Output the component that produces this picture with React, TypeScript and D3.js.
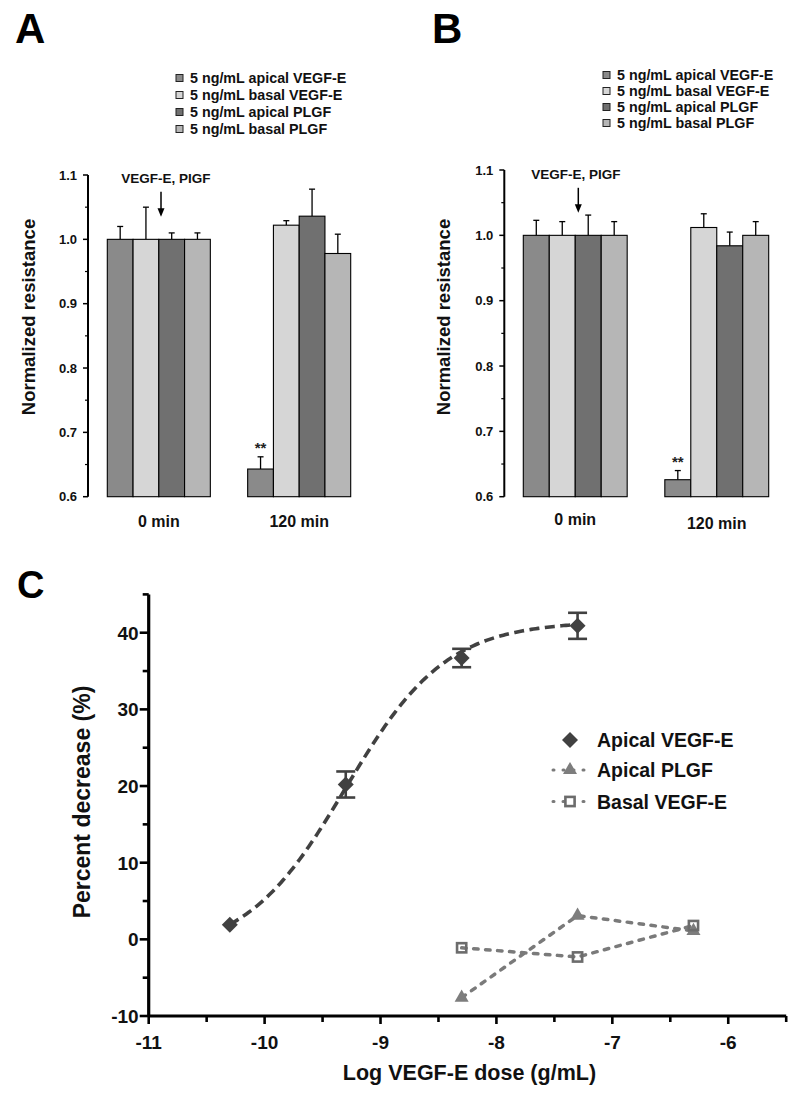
import React from "react";
import * as d3 from "d3";

const FONT = "'Liberation Sans', Arial, Helvetica, sans-serif";

// ---------- Panels A & B data ----------
const timeGroups = ["0 min", "120 min"];
const barSeries = [
  "5 ng/mL apical VEGF-E",
  "5 ng/mL basal VEGF-E",
  "5 ng/mL apical PLGF",
  "5 ng/mL basal PLGF",
];
const barColors = ["#8a8a8a", "#d6d6d6", "#707070", "#b6b6b6"];
const barTicks = [0.6, 0.7, 0.8, 0.9, 1.0, 1.1];
const barMinorTicks = [0.65, 0.75, 0.85, 0.95, 1.05];

const panelA0min = [1.0, 1.0, 1.0, 1.0];
const panelA0minErr = [0.02, 0.05, 0.01, 0.01];
const panelA120min = [0.643, 1.022, 1.036, 0.978];
const panelA120minErr = [0.019, 0.007, 0.042, 0.03];

const panelB0min = [1.0, 1.0, 1.0, 1.0];
const panelB0minErr = [0.023, 0.021, 0.031, 0.021];
const panelB120min = [0.626, 1.012, 0.984, 1.0];
const panelB120minErr = [0.014, 0.021, 0.021, 0.021];

// ---------- Panel C data ----------
const doseApicalVEGF = [-10.3, -9.3, -8.3, -7.3];
const apicalVEGF = [1.9, 20.2, 36.7, 40.9];
const apicalVEGFErr = [0, 1.7, 1.2, 1.7];
const doseControls = [-8.3, -7.3, -6.3];
const apicalPLGF = [-7.6, 3.1, 1.1];
const basalVEGF = [-1.1, -2.3, 1.8];
const cYTicks = [-10, 0, 10, 20, 30, 40];
const cYMinorTicks = [-5, 5, 15, 25, 35, 45];
const cXTicks = [-11, -10, -9, -8, -7, -6];
const cXMinorTicks = [-10.5, -9.5, -8.5, -7.5, -6.5, -5.5];
const cLegend = ["Apical VEGF-E", "Apical PLGF", "Basal VEGF-E"];
// sigmoidal dose-response fit parameters for apical VEGF-E
const FIT_BOTTOM = -2;
const FIT_TOP = 41.5;
const FIT_LOGEC50 = -9.3;
const FIT_HILL = 1.0;

type BarPanelProps = {
  letter: string;
  letterX: number;
  values: number[][];
  errors: number[][];
  axisX: number;
  yTop: number;
  yBottom: number;
  xRange: [number, number];
  legendX: number;
  legendY0: number;
  legendDy: number;
  arrowX: number;
  noteX: number;
  noteBaseline: number;
  xLabelBaselines: number[];
  yTitleX: number;
  yTitleY: number;
};

function BarPanel(p: BarPanelProps) {
  const y = d3.scaleLinear().domain([0.6, 1.1]).range([p.yBottom, p.yTop]);
  const xg = d3.scaleBand<string>().domain(timeGroups).range(p.xRange).paddingInner(0.266).paddingOuter(0);
  const xs = d3.scaleBand<string>().domain(barSeries).range([0, xg.bandwidth()]).padding(0);
  const fmt = d3.format(".1f");
  const starErrTop = y(p.values[1][0] + p.errors[1][0]);
  return (
    <g>
      <text x={p.letterX} y={43} fontFamily={FONT} fontWeight="bold" fontSize={42}>
        {p.letter}
      </text>
      {/* legend */}
      {barSeries.map((s, i) => (
        <g key={s}>
          <rect
            x={p.legendX}
            y={p.legendY0 + i * p.legendDy - 3.5}
            width={7}
            height={7}
            fill={barColors[i]}
            stroke="#222"
            strokeWidth={1}
          />
          <text
            x={p.legendX + 14}
            y={p.legendY0 + i * p.legendDy + 5}
            fontFamily={FONT}
            fontWeight="bold"
            fontSize={14.3}
            fill="#111"
          >
            {s}
          </text>
        </g>
      ))}
      {/* y axis */}
      <line x1={p.axisX} x2={p.axisX} y1={y(1.1)} y2={y(0.6)} stroke="#000" strokeWidth={2} />
      {barTicks.map((t) => (
        <g key={t}>
          <line x1={p.axisX - 5} x2={p.axisX} y1={y(t)} y2={y(t)} stroke="#000" strokeWidth={1.5} />
          <text
            x={p.axisX - 11}
            y={y(t) + 4.5}
            textAnchor="end"
            fontFamily={FONT}
            fontWeight="bold"
            fontSize={13}
            fill="#111"
          >
            {fmt(t)}
          </text>
        </g>
      ))}
      {barMinorTicks.map((t) => (
        <line key={t} x1={p.axisX - 3} x2={p.axisX} y1={y(t)} y2={y(t)} stroke="#000" strokeWidth={1.2} />
      ))}
      <text
        transform={`translate(${p.yTitleX},${p.yTitleY}) rotate(-90)`}
        textAnchor="middle"
        dy="0.35em"
        fontFamily={FONT}
        fontWeight="bold"
        fontSize={18.5}
        fill="#111"
      >
        Normalized resistance
      </text>
      {/* bars */}
      {timeGroups.map((g, gi) => (
        <g key={g}>
          {barSeries.map((s, si) => {
            const v = p.values[gi][si];
            const e = p.errors[gi][si];
            const x0 = (xg(g) as number) + (xs(s) as number);
            const cx = x0 + xs.bandwidth() / 2;
            return (
              <g key={s}>
                <line x1={cx} x2={cx} y1={y(v)} y2={y(v + e)} stroke="#000" strokeWidth={1.3} />
                <line x1={cx - 3} x2={cx + 3} y1={y(v + e)} y2={y(v + e)} stroke="#000" strokeWidth={1.3} />
                <rect
                  x={x0}
                  y={y(v)}
                  width={xs.bandwidth()}
                  height={y(0.6) - y(v)}
                  fill={barColors[si]}
                  stroke="#000"
                  strokeWidth={1.1}
                />
              </g>
            );
          })}
          <text
            x={(xg(g) as number) + xg.bandwidth() / 2}
            y={p.xLabelBaselines[gi]}
            textAnchor="middle"
            fontFamily={FONT}
            fontWeight="bold"
            fontSize={16}
            fill="#111"
          >
            {g}
          </text>
        </g>
      ))}
      {/* significance stars */}
      <text
        x={(xg(timeGroups[1]) as number) + (xs(barSeries[0]) as number) + xs.bandwidth() / 2}
        y={starErrTop - 4}
        textAnchor="middle"
        fontFamily={FONT}
        fontWeight="bold"
        fontSize={15}
        fill="#222"
      >
        **
      </text>
      {/* treatment annotation */}
      <text
        x={p.noteX}
        y={p.noteBaseline}
        textAnchor="middle"
        fontFamily={FONT}
        fontWeight="bold"
        fontSize={13.5}
        fill="#111"
      >
        VEGF-E, PIGF
      </text>
      <line x1={p.arrowX} x2={p.arrowX} y1={p.noteBaseline + 8.5} y2={p.noteBaseline + 27} stroke="#000" strokeWidth={1.5} />
      <path
        d={`M${p.arrowX - 3.5},${p.noteBaseline + 25} L${p.arrowX + 3.5},${p.noteBaseline + 25} L${p.arrowX},${p.noteBaseline + 33.5} Z`}
        fill="#000"
      />
    </g>
  );
}

function PanelC() {
  const x = d3.scaleLinear().domain([-11, -5.5]).range([148.7, 786.2]);
  const y = d3.scaleLinear().domain([-10, 45]).range([1016, 594.4]);
  const axisY = y(-10);
  const axisX = x(-11);
  const dark = "#414141";
  const grey = "#7a7a7a";

  const fit = (v: number) => FIT_BOTTOM + (FIT_TOP - FIT_BOTTOM) / (1 + Math.pow(10, (FIT_LOGEC50 - v) * FIT_HILL));
  const fitXs = d3.range(doseApicalVEGF[0], doseApicalVEGF[doseApicalVEGF.length - 1] + 0.0001, 0.02);
  const fitLine = d3
    .line<number>()
    .x((d) => x(d))
    .y((d) => y(fit(d)))(fitXs);

  const ctrlLine = (vals: number[]) =>
    d3
      .line<number>()
      .x((_, i) => x(doseControls[i]))
      .y((d) => y(d))(vals) as string;

  const diamond = (h: number) => `M0,${-h} L${h},0 L0,${h} L${-h},0 Z`;
  const tri = d3.symbol(d3.symbolTriangle, 85)() as string;

  const legendX = 570;
  const legendRows = [740, 770, 801.5];

  return (
    <g>
      <text x={17} y={598} fontFamily={FONT} fontWeight="bold" fontSize={38}>
        C
      </text>
      {/* axes */}
      <line x1={axisX} x2={axisX} y1={y(45)} y2={axisY} stroke="#000" strokeWidth={3.2} />
      <line x1={axisX} x2={x(-5.5)} y1={axisY} y2={axisY} stroke="#000" strokeWidth={3.2} />
      {cYTicks.map((t) => (
        <g key={t}>
          <line x1={axisX - 9} x2={axisX} y1={y(t)} y2={y(t)} stroke="#000" strokeWidth={2.6} />
          <text
            x={axisX - 10}
            y={y(t) + 7}
            textAnchor="end"
            fontFamily={FONT}
            fontWeight="bold"
            fontSize={19}
            fill="#111"
          >
            {t}
          </text>
        </g>
      ))}
      {cYMinorTicks.map((t) => (
        <line key={t} x1={axisX - 6} x2={axisX} y1={y(t)} y2={y(t)} stroke="#000" strokeWidth={2.6} />
      ))}
      {cXTicks.map((t) => (
        <g key={t}>
          <line x1={x(t)} x2={x(t)} y1={axisY} y2={axisY + 8} stroke="#000" strokeWidth={2.6} />
          <text
            x={x(t)}
            y={axisY + 32.5}
            textAnchor="middle"
            fontFamily={FONT}
            fontWeight="bold"
            fontSize={19}
            fill="#111"
          >
            {t}
          </text>
        </g>
      ))}
      {cXMinorTicks.map((t) => (
        <line key={t} x1={x(t)} x2={x(t)} y1={axisY} y2={axisY + 6} stroke="#000" strokeWidth={2.6} />
      ))}
      <text
        x={(x(-11) + x(-5.5)) / 2 + 2}
        y={1080}
        textAnchor="middle"
        fontFamily={FONT}
        fontWeight="bold"
        fontSize={21.5}
        fill="#111"
      >
        Log VEGF-E dose (g/mL)
      </text>
      <text
        transform={`translate(82,802) rotate(-90)`}
        textAnchor="middle"
        dy="0.35em"
        fontFamily={FONT}
        fontWeight="bold"
        fontSize={23}
        fill="#111"
      >
        Percent decrease (%)
      </text>

      {/* control series */}
      <path d={ctrlLine(apicalPLGF)} fill="none" stroke={grey} strokeWidth={3.5} strokeDasharray="4.5,7.5" strokeLinecap="round" />
      <path d={ctrlLine(basalVEGF)} fill="none" stroke={grey} strokeWidth={3.5} strokeDasharray="4.5,7.5" strokeLinecap="round" />
      {apicalPLGF.map((v, i) => (
        <path key={"t" + i} d={tri} transform={`translate(${x(doseControls[i])},${y(v)})`} fill="#7d7d7d" />
      ))}
      {basalVEGF.map((v, i) => (
        <rect
          key={"s" + i}
          x={x(doseControls[i]) - 4.6}
          y={y(v) - 4.6}
          width={9.2}
          height={9.2}
          fill="none"
          stroke="#6c6c6c"
          strokeWidth={2.6}
        />
      ))}

      {/* apical VEGF-E fit & points */}
      <path d={fitLine as string} fill="none" stroke={dark} strokeWidth={3.6} strokeDasharray="10,5.5" />
      {apicalVEGF.map((v, i) => {
        const cx = x(doseApicalVEGF[i]);
        const e = apicalVEGFErr[i];
        return (
          <g key={"d" + i}>
            {e > 0 && (
              <g stroke={dark} strokeWidth={2.6}>
                <line x1={cx} x2={cx} y1={y(v - e)} y2={y(v + e)} />
                <line x1={cx - 9.5} x2={cx + 9.5} y1={y(v - e)} y2={y(v - e)} />
                <line x1={cx - 9.5} x2={cx + 9.5} y1={y(v + e)} y2={y(v + e)} />
              </g>
            )}
            <path d={diamond(8)} transform={`translate(${cx},${y(v)})`} fill={dark} />
          </g>
        );
      })}

      {/* legend */}
      {cLegend.map((label, i) => (
        <g key={label}>
          {i > 0 && (
            <line
              x1={legendX - 17}
              x2={legendX + 22}
              y1={legendRows[i]}
              y2={legendRows[i]}
              stroke={grey}
              strokeWidth={3}
              strokeDasharray="1,9"
              strokeLinecap="round"
            />
          )}
          {i === 0 && <path d={diamond(8)} transform={`translate(${legendX},${legendRows[i]})`} fill={dark} />}
          {i === 1 && <path d={tri} transform={`translate(${legendX},${legendRows[i]})`} fill="#7d7d7d" />}
          {i === 2 && (
            <rect
              x={legendX - 4.6}
              y={legendRows[i] - 4.6}
              width={9.2}
              height={9.2}
              fill="#fff"
              stroke="#6c6c6c"
              strokeWidth={2.6}
            />
          )}
          <text
            x={legendX + 27}
            y={legendRows[i] + 7}
            fontFamily={FONT}
            fontWeight="bold"
            fontSize={19.5}
            fill="#111"
          >
            {label}
          </text>
        </g>
      ))}
    </g>
  );
}

export default function App() {
  return (
    <svg
      width={800}
      height={1100}
      viewBox="0 0 800 1100"
      style={{ position: "absolute", left: 0, top: 0, display: "block", background: "#fff" }}
    >
      <rect x={0} y={0} width={800} height={1100} fill="#fff" />
      <BarPanel
        letter="A"
        letterX={15}
        values={[panelA0min, panelA120min]}
        errors={[panelA0minErr, panelA120minErr]}
        axisX={88}
        yTop={175}
        yBottom={496.7}
        xRange={[107.3, 350.7]}
        legendX={176}
        legendY0={78}
        legendDy={17}
        arrowX={161}
        noteX={166}
        noteBaseline={183.3}
        xLabelBaselines={[527, 527]}
        yTitleX={28.5}
        yTitleY={317}
      />
      <BarPanel
        letter="B"
        letterX={432}
        values={[panelB0min, panelB120min]}
        errors={[panelB0minErr, panelB120minErr]}
        axisX={504.3}
        yTop={170}
        yBottom={496.7}
        xRange={[523.3, 768.7]}
        legendX={603}
        legendY0={75}
        legendDy={16}
        arrowX={578.3}
        noteX={576}
        noteBaseline={179.3}
        xLabelBaselines={[525, 529]}
        yTitleX={444}
        yTitleY={317}
      />
      <PanelC />
    </svg>
  );
}
